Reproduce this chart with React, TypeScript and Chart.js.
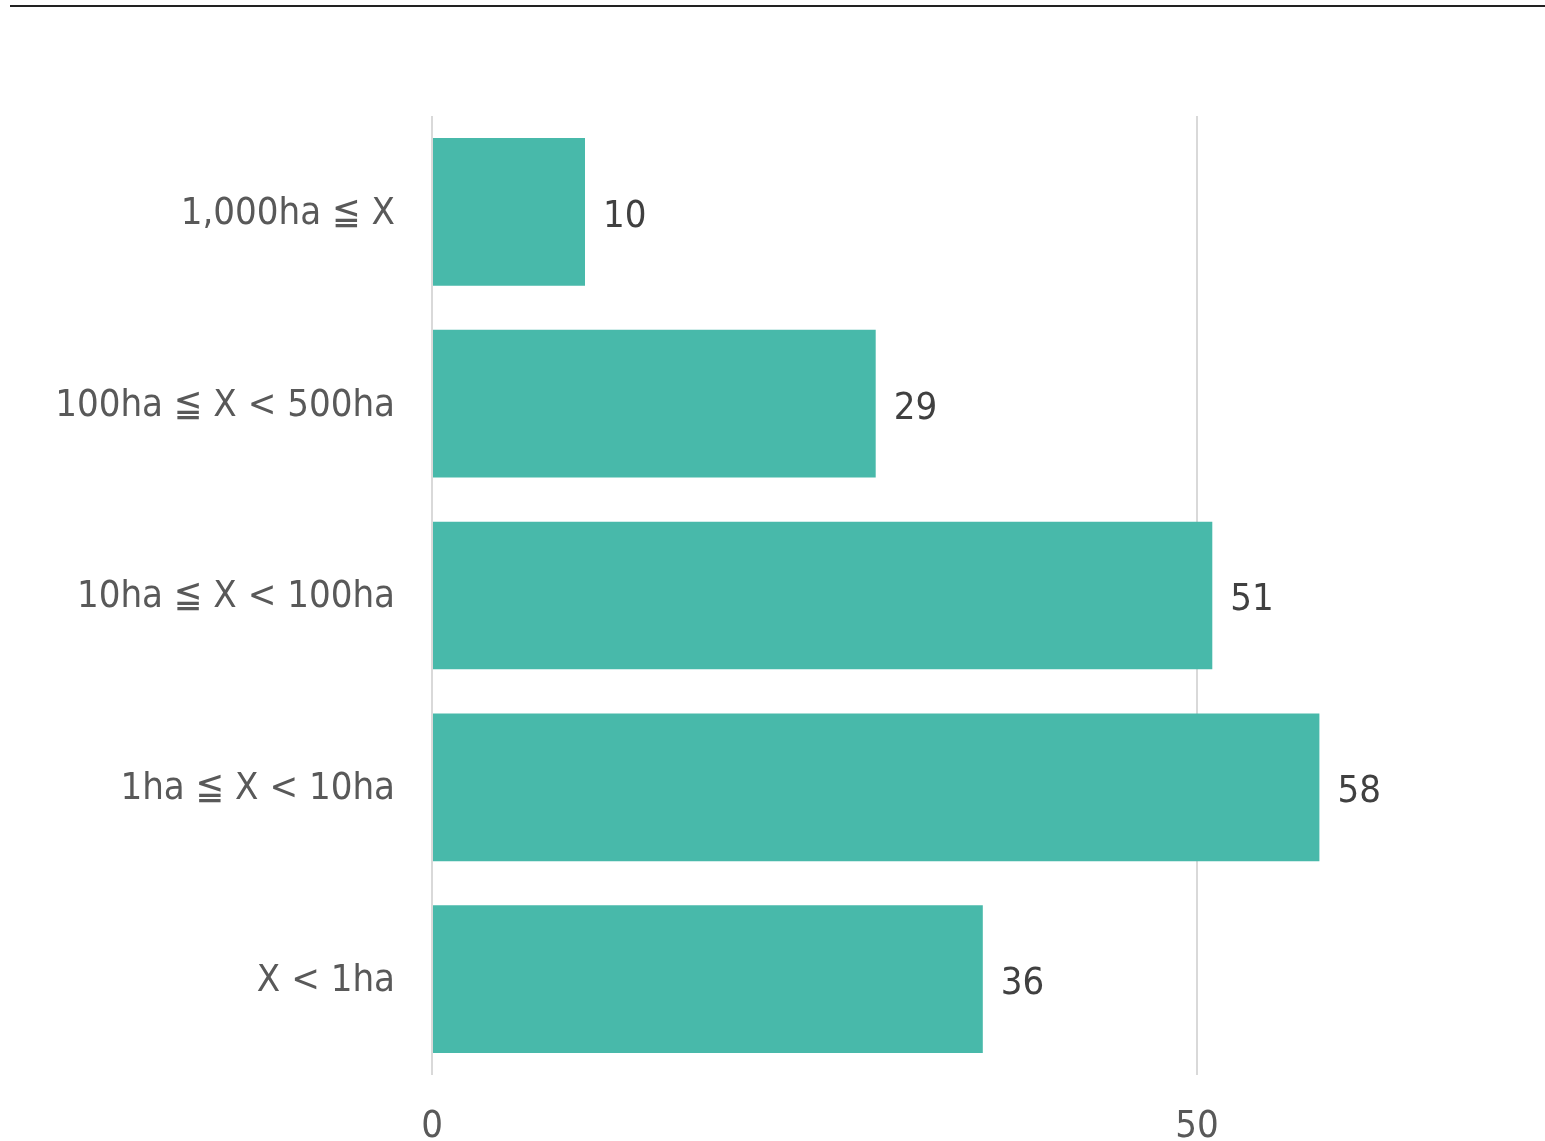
import React, { useEffect, useRef } from "react";
import { Chart, registerables } from "chart.js";

Chart.register(...registerables);

// Farm size brackets, top to bottom
const categories: string[] = [
  "1,000ha ≦ X",
  "100ha ≦ X < 500ha",
  "10ha ≦ X < 100ha",
  "1ha ≦ X < 10ha",
  "X < 1ha",
];
const counts: number[] = [10, 29, 51, 58, 36];
const xTicks: number[] = [0, 50];

const FONT = "'DejaVu Sans Condensed', 'DejaVu Sans', sans-serif";
const BAR_COLOR = "#48B9AA";

// Writes each bar's value just past its end
const valueLabels = {
  id: "valueLabels",
  afterDatasetsDraw(chart: any) {
    const { ctx } = chart;
    const meta = chart.getDatasetMeta(0);
    ctx.save();
    ctx.font = `38px ${FONT}`;
    ctx.fillStyle = "#404040";
    ctx.textAlign = "left";
    ctx.textBaseline = "middle";
    meta.data.forEach((bar: any, i: number) => {
      ctx.fillText(String(counts[i]), bar.x + 18, bar.y + 5);
    });
    ctx.restore();
  },
};

export default function App() {
  const canvasRef = useRef<HTMLCanvasElement | null>(null);

  useEffect(() => {
    if (!canvasRef.current) return;
    const chart = new Chart(canvasRef.current, {
      type: "bar",
      data: {
        labels: categories,
        datasets: [
          {
            data: counts,
            backgroundColor: BAR_COLOR,
            borderWidth: 0,
            barPercentage: 0.77,
            categoryPercentage: 1,
          },
        ],
      },
      options: {
        indexAxis: "y",
        animation: false,
        responsive: false,
        maintainAspectRatio: false,
        layout: { padding: { top: 116, right: 42, left: 0, bottom: 0 } },
        plugins: {
          legend: { display: false },
          tooltip: { enabled: false },
        },
        scales: {
          x: {
            min: 0,
            max: 70,
            afterBuildTicks: (scale: any) => {
              scale.ticks = xTicks.map((v) => ({ value: v }));
            },
            afterFit: (scale: any) => {
              scale.height = 66;
            },
            border: { display: false },
            grid: {
              color: "#d9d9d9",
              lineWidth: 2,
              drawTicks: false,
            },
            ticks: {
              color: "#595959",
              font: { family: FONT, size: 38 },
              padding: 29,
            },
          },
          y: {
            afterFit: (scale: any) => {
              scale.width = 432;
            },
            border: { display: false },
            grid: { display: false, drawTicks: false },
            ticks: {
              color: "#595959",
              font: { family: FONT, size: 38 },
              padding: 37,
              labelOffset: 2,
            },
          },
        },
      },
      plugins: [valueLabels],
    });
    return () => chart.destroy();
  }, []);

  return (
    <div
      style={{
        position: "absolute",
        left: 0,
        top: 0,
        width: 1545,
        height: 1141,
        background: "#ffffff",
      }}
    >
      <div
        style={{
          position: "absolute",
          left: 10,
          top: 5,
          width: 1535,
          height: 2,
          background: "#222222",
        }}
      />
      <canvas
        ref={canvasRef}
        width={1545}
        height={1141}
        style={{ position: "absolute", left: 0, top: 0, width: 1545, height: 1141 }}
      />
    </div>
  );
}
